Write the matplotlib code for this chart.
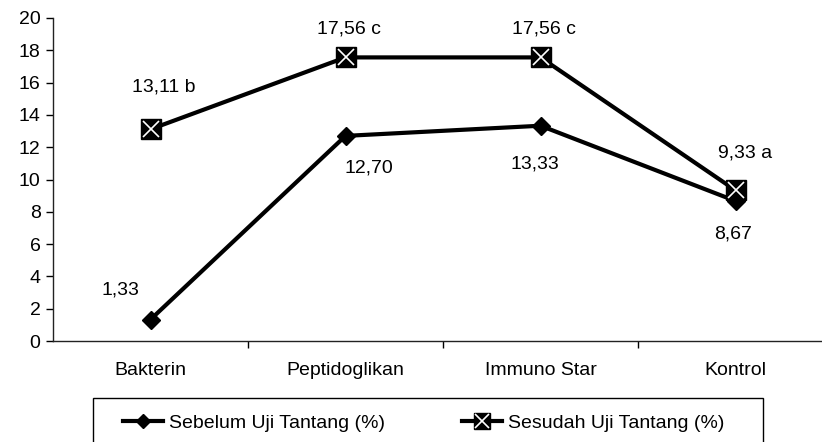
import matplotlib.pyplot as plt
from matplotlib.legend_handler import HandlerTuple
from matplotlib.lines import Line2D
from matplotlib.patches import Rectangle

# data
kategori = ["Bakterin", "Peptidoglikan", "Immuno Star", "Kontrol"]
sebelum = [1.33, 12.70, 13.33, 8.67]
sesudah = [13.11, 17.56, 17.56, 9.33]
label_sebelum = ["1,33", "12,70", "13,33", "8,67"]
label_sesudah = ["13,11 b", "17,56 c", "17,56 c", "9,33 a"]

plt.rcParams['font.family'] = ['Liberation Sans', 'DejaVu Sans']
plt.rcParams['font.size'] = 14

fig = plt.figure(figsize=(8.22, 4.42), dpi=100)
# axes runs off the right edge like in the original
ax = fig.add_axes([53 / 822, 1 - 341 / 442, 780 / 822, 323 / 442])

x = list(range(len(kategori)))
ax.plot(x, sebelum, color="black", lw=3, marker="D", ms=9,
        mfc="black", mec="black", zorder=3)
ax.plot(x, sesudah, color="black", lw=3, marker="s", ms=15,
        mfc="black", mec="black", zorder=4)
ax.plot(x, sesudah, ls="none", marker="x", ms=12, mew=1.2,
        color="white", zorder=5)

# label offsets (pixels)
off_sebelum = [(-30, 30), (23, -32), (-6, -38), (-2, -33)]
off_sesudah = [(13, 42), (3, 28), (3, 28), (10, 37)]
for i in x:
    ax.annotate(label_sebelum[i], (i, sebelum[i]), xytext=off_sebelum[i],
                textcoords="offset pixels", ha="center", va="center")
    ax.annotate(label_sesudah[i], (i, sesudah[i]), xytext=off_sesudah[i],
                textcoords="offset pixels", ha="center", va="center")

ax.set_xlim(-0.5, 3.5)
ax.set_ylim(0, 20)
ax.set_yticks(range(0, 21, 2))
ax.set_xticks(x)
ax.set_xticklabels(kategori)
ax.set_xticks([0.5, 1.5, 2.5], minor=True)
ax.tick_params(axis="x", which="major", length=0, pad=15)
ax.tick_params(axis="x", which="minor", length=5, width=1)
ax.tick_params(axis="y", length=5, width=1, pad=4)
for s in ["top", "right"]:
    ax.spines[s].set_visible(False)
for s in ["left", "bottom"]:
    ax.spines[s].set_linewidth(1)
    ax.spines[s].set_color("#222222")

# legend
h1 = Line2D([], [], color="black", lw=3, marker="D", ms=7)
h2 = Line2D([], [], color="black", lw=3, marker="s", ms=12)
h2x = Line2D([], [], ls="none", marker="x", ms=10, mew=1.2, color="white")
leg = fig.legend([h1, (h2, h2x)],
                 ["Sebelum Uji Tantang (%)", "Sesudah Uji Tantang (%)"],
                 handler_map={tuple: HandlerTuple(ndivide=1, pad=0)},
                 loc="center left", bbox_to_anchor=(123 / 822, 1 - 423 / 442),
                 ncol=2, frameon=False, handlelength=2.05, handletextpad=0.3,
                 columnspacing=4.0, borderpad=0, borderaxespad=0)
fig.patches.append(Rectangle((93 / 822, -0.05), 670 / 822, 44 / 442 + 0.05,
                             transform=fig.transFigure, fill=False,
                             edgecolor="black", lw=1, clip_on=False))

fig.savefig("out.png", dpi=100)
